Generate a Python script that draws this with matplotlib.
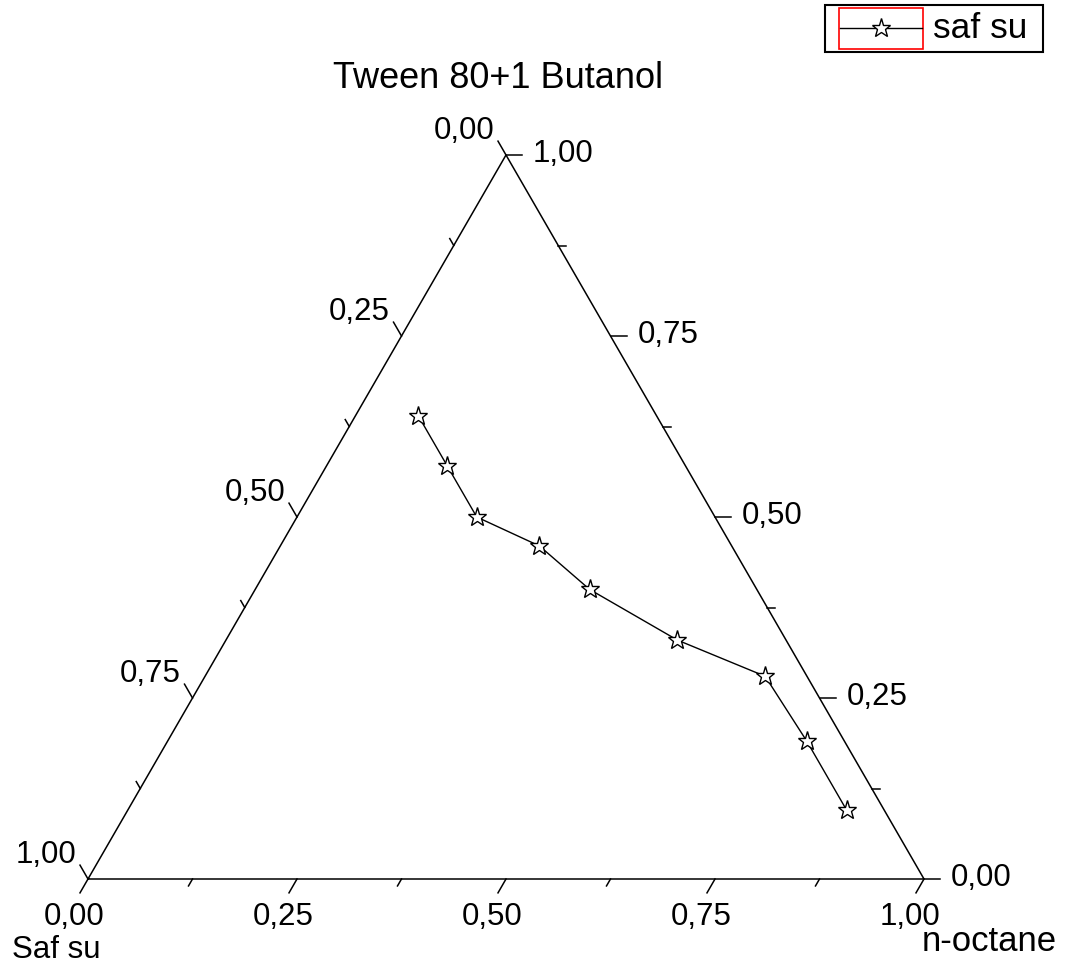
import numpy as np
import matplotlib
matplotlib.use("Agg")
import matplotlib.pyplot as plt
from matplotlib.patches import Rectangle
from matplotlib.lines import Line2D

plt.rcParams['font.family'] = ['Liberation Sans', 'DejaVu Sans']

# ternary data (fractions)
octane = [0.075, 0.145, 0.215, 0.31, 0.40, 0.54, 0.67, 0.765, 0.86]
tween = [0.64, 0.57, 0.50, 0.46, 0.40, 0.33, 0.28, 0.19, 0.095]
saf_su = [1 - a - b for a, b in zip(octane, tween)]

tick_major = [0.0, 0.25, 0.5, 0.75, 1.0]
tick_minor = [0.125, 0.375, 0.625, 0.875]
tick_labels = ['0,00', '0,25', '0,50', '0,75', '1,00']

top_title = 'Tween 80+1 Butanol'
left_title = 'Saf su'
right_title = 'n-octane'
series_name = 'saf su'

W, H = 1069, 978
S = 836.0          # pixels per unit triangle side
X0, Y0 = 88, 880   # pixel of bottom-left vertex
h = np.sqrt(3) / 2


def px(x, y):
    # figure pixel (top-left origin) -> data coords
    return (x - X0) / S, (Y0 - y) / S


def tern(a, b):
    # a = n-octane, b = tween
    a = np.asarray(a)
    b = np.asarray(b)
    return a + 0.5 * b, h * b


fig = plt.figure(figsize=(W / 100, H / 100), dpi=100)
ax = fig.add_axes([0, 0, 1, 1])
ax.set_xlim(-X0 / S, (W - X0) / S)
ax.set_ylim(-(H - Y0) / S, Y0 / S)
ax.axis('off')

# triangle frame
ax.plot([0, 1, 0.5, 0], [0, 0, h, 0], color='black', lw=1.1, solid_joinstyle='miter')

maj = 16 / S
mnr = 8 / S
fs = 22.5

for t, lab in zip(tick_major, tick_labels):
    # bottom axis (n-octane)
    bx, by = t, 0
    ax.plot([bx, bx - 0.5 * maj], [by, by - h * maj], color='black', lw=1.1)
    ax.text(bx - 14 / S, by - 22 / S, lab, ha='center', va='top', fontsize=fs)
    # right axis (tween)
    rx, ry = 1 - 0.5 * t, h * t
    ax.plot([rx, rx + maj], [ry, ry], color='black', lw=1.1)
    ax.text(rx + 27 / S, ry + 2 / S, lab, ha='left', va='center', fontsize=fs)
    # left axis (saf su)
    lx, ly = 0.5 * (1 - t), h * (1 - t)
    ax.plot([lx, lx - 0.5 * maj], [ly, ly + h * maj], color='black', lw=1.1)
    ax.text(lx - 12 / S, ly + 25 / S, lab, ha='right', va='center', fontsize=fs)

for t in tick_minor:
    bx, by = t, 0
    ax.plot([bx, bx - 0.5 * mnr], [by, by - h * mnr], color='black', lw=1.1)
    rx, ry = 1 - 0.5 * t, h * t
    ax.plot([rx, rx + mnr], [ry, ry], color='black', lw=1.1)
    lx, ly = 0.5 * (1 - t), h * (1 - t)
    ax.plot([lx, lx - 0.5 * mnr], [ly, ly + h * mnr], color='black', lw=1.1)

# axis titles
ax.text(*px(498, 78), top_title, ha='center', va='center', fontsize=26)
ax.text(*px(12, 950), left_title, ha='left', va='center', fontsize=22.5)
ax.text(*px(1057, 942), right_title, ha='right', va='center', fontsize=25)

# data
cx, cy = tern(octane, tween)
ax.plot(cx, cy, color='black', lw=1, marker='*', markersize=14,
        markerfacecolor='white', markeredgecolor='black', markeredgewidth=1)

# legend (drawn by hand to get the red sample box)
x1, y1 = px(825, 53)
x2, y2 = px(1043, 6)
ax.add_patch(Rectangle((x1, y1), x2 - x1, y2 - y1, fill=False, ec='black', lw=1.5, clip_on=False))
x1, y1 = px(839, 50)
x2, y2 = px(923, 9)
ax.add_patch(Rectangle((x1, y1), x2 - x1, y2 - y1, fill=False, ec='red', lw=1.2, clip_on=False))
lx0, ly0 = px(840, 29)
lx1, _ = px(922, 29)
ax.add_line(Line2D([lx0, lx1], [ly0, ly0], color='black', lw=1))
ax.add_line(Line2D([(lx0 + lx1) / 2], [ly0], marker='*', markersize=14,
                   markerfacecolor='white', markeredgecolor='black', markeredgewidth=1))
ax.text(*px(933, 29), series_name, ha='left', va='center', fontsize=25.5)

fig.savefig('out.png', dpi=100, facecolor='white')
